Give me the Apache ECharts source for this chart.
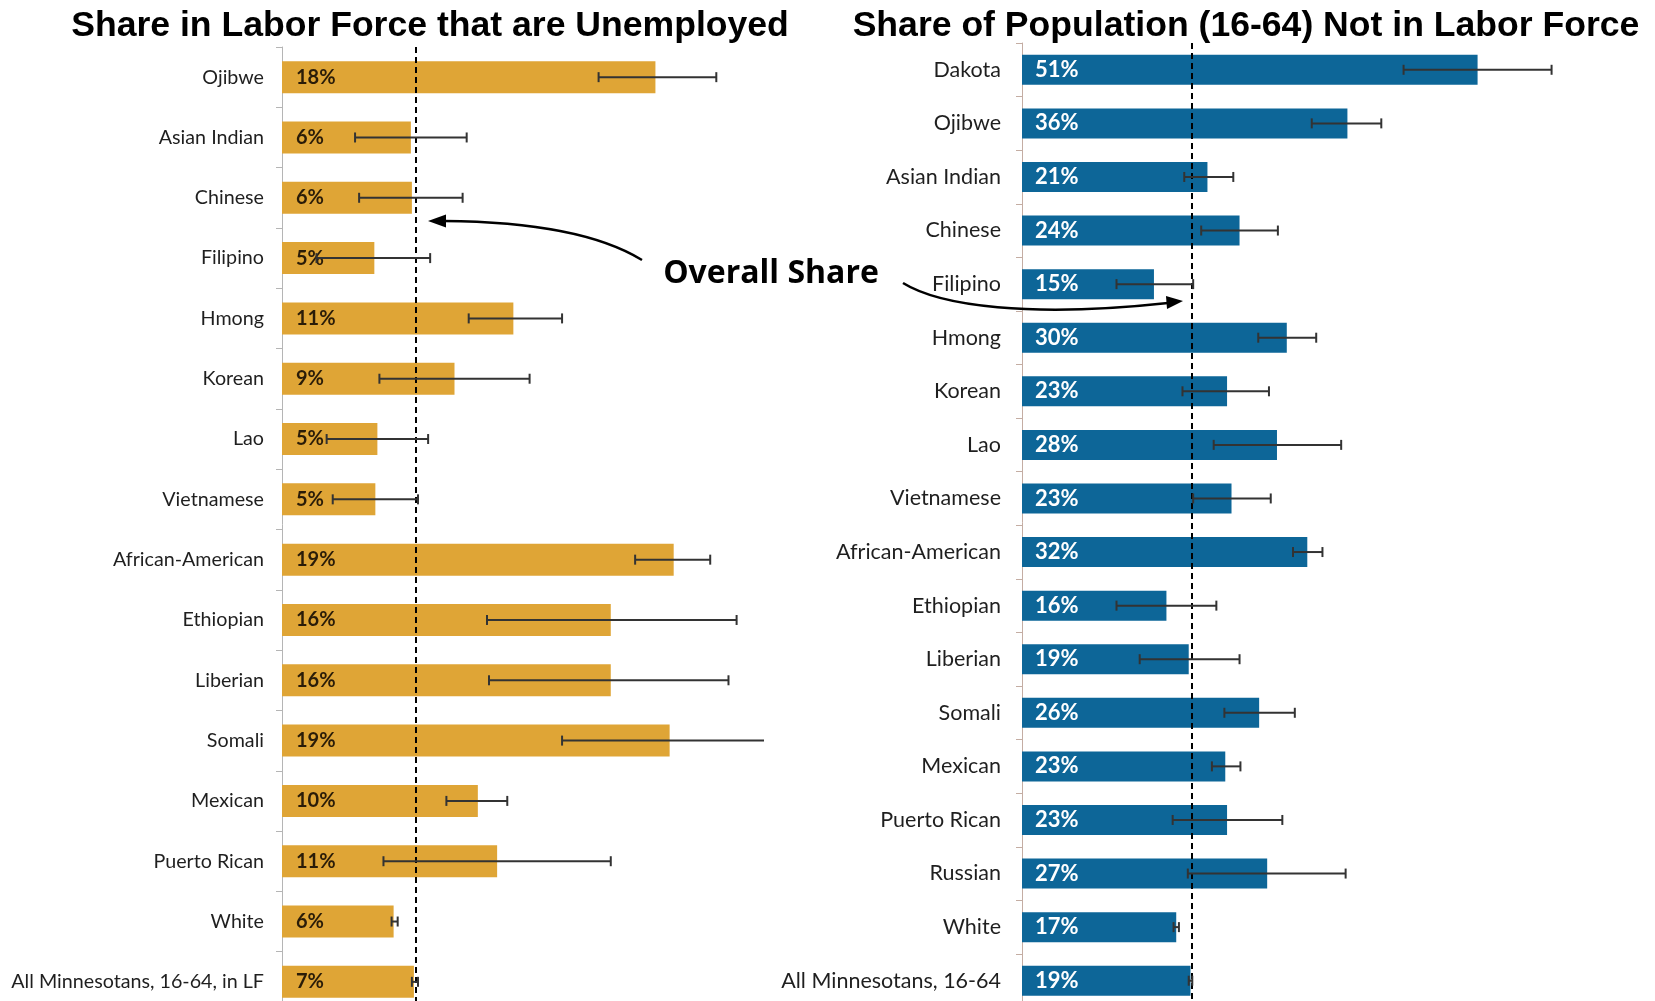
<!DOCTYPE html>
<html>
<head>
<meta charset="utf-8">
<title>Labor force shares</title>
<script src="https://cdn.jsdelivr.net/npm/echarts@6/dist/echarts.min.js"></script>
<style>
  html, body { margin: 0; padding: 0; background: #fff; }
  #main { width: 1655px; height: 1001px; }
</style>
</head>
<body>
<div id="main"></div>
<script>
// left panel: share in labor force that are unemployed
var unempGroups = ['Ojibwe', 'Asian Indian', 'Chinese', 'Filipino', 'Hmong', 'Korean', 'Lao', 'Vietnamese',
    'African-American', 'Ethiopian', 'Liberian', 'Somali', 'Mexican', 'Puerto Rican', 'White',
    'All Minnesotans, 16-64, in LF'];
var unempValues = [18.4, 6.35, 6.4, 4.55, 11.4, 8.5, 4.7, 4.6, 19.3, 16.2, 16.2, 19.1, 9.65, 10.6, 5.5, 6.5];
var unempLow = [15.6, 3.6, 3.8, 1.7, 9.2, 4.8, 2.2, 2.5, 17.4, 10.1, 10.2, 13.8, 8.1, 5.0, 5.4, 6.4];
var unempHigh = [21.4, 9.1, 8.9, 7.3, 13.8, 12.2, 7.2, 6.7, 21.1, 22.4, 22.0, 25.0, 11.1, 16.2, 5.7, 6.7];
var unempLabels = ['18%', '6%', '6%', '5%', '11%', '9%', '5%', '5%', '19%', '16%', '16%', '19%', '10%', '11%', '6%', '7%'];
var unempOverall = 6.6;

// right panel: share of population (16-64) not in labor force
var nilfGroups = ['Dakota', 'Ojibwe', 'Asian Indian', 'Chinese', 'Filipino', 'Hmong', 'Korean', 'Lao', 'Vietnamese',
    'African-American', 'Ethiopian', 'Liberian', 'Somali', 'Mexican', 'Puerto Rican', 'Russian', 'White',
    'All Minnesotans, 16-64'];
var nilfValues = [51.1, 36.5, 20.8, 24.4, 14.8, 29.7, 23.0, 28.6, 23.5, 32.0, 16.2, 18.7, 26.6, 22.8, 23.0, 27.5, 17.3, 18.9];
var nilfLow = [42.8, 32.5, 18.2, 20.1, 10.6, 26.5, 18.0, 21.5, 19.2, 30.4, 10.6, 13.2, 22.7, 21.3, 16.9, 18.6, 17.0, 18.7];
var nilfHigh = [59.4, 40.3, 23.7, 28.7, 19.2, 33.0, 27.7, 35.8, 27.9, 33.7, 21.8, 24.4, 30.6, 24.5, 29.2, 36.3, 17.6, 19.1];
var nilfLabels = ['51%', '36%', '21%', '24%', '15%', '30%', '23%', '28%', '23%', '32%', '16%', '19%', '26%', '23%', '23%', '27%', '17%', '19%'];
var nilfOverall = 19;

var labelFont = 'Lato, "Open Sans", sans-serif';

// error bar with end caps, clipped at the right edge of the grid
function renderError(params, api) {
    var lo = api.coord([api.value(0), api.value(2)]);
    var hi = api.coord([api.value(1), api.value(2)]);
    var right = params.coordSys.x + params.coordSys.width;
    var cut = hi[0] > right;
    if (cut) hi[0] = right;
    var h = 5;
    var style = { stroke: '#333', lineWidth: 2 };
    var children = [
        { type: 'line', shape: { x1: lo[0], y1: lo[1], x2: hi[0], y2: hi[1] }, style: style },
        { type: 'line', shape: { x1: lo[0], y1: lo[1] - h, x2: lo[0], y2: lo[1] + h }, style: style }
    ];
    if (!cut) {
        children.push({ type: 'line', shape: { x1: hi[0], y1: hi[1] - h, x2: hi[0], y2: hi[1] + h }, style: style });
    }
    return { type: 'group', children: children };
}

function errorData(low, high) {
    var out = [];
    for (var i = 0; i < low.length; i++) {
        out.push([low[i], high[i], i]);
    }
    return out;
}

function catAxis(idx, groups, margin, lineColor, fontSize) {
    return {
        type: 'category',
        gridIndex: idx,
        data: groups,
        inverse: true,
        axisLine: { show: true, lineStyle: { color: lineColor, width: 1 } },
        axisTick: { show: true, length: 6, lineStyle: { color: lineColor } },
        axisLabel: { margin: margin, fontSize: fontSize, color: '#1f1f1f', fontFamily: labelFont },
        splitLine: { show: false }
    };
}

function valAxis(idx, max) {
    return {
        type: 'value',
        gridIndex: idx,
        min: 0,
        max: max,
        axisLine: { show: false },
        axisTick: { show: false },
        axisLabel: { show: false },
        splitLine: { show: false }
    };
}

function overallLine(v) {
    return {
        silent: true,
        symbol: 'none',
        label: { show: false },
        lineStyle: { color: '#000', type: [6, 4], width: 2 },
        data: [{ xAxis: v }]
    };
}

var chart = echarts.init(document.getElementById('main'));

var option = {
    animation: false,
    backgroundColor: '#fff',
    grid: [
        { left: 282, top: 47, width: 482, height: 965, outerBoundsMode: 'none' },
        { left: 1022, top: 43, width: 633, height: 964.5, outerBoundsMode: 'none' }
    ],
    xAxis: [valAxis(0, 23.75), valAxis(1, 71)],
    yAxis: [catAxis(0, unempGroups, 18, '#b5b5b5', 19.7), catAxis(1, nilfGroups, 21, '#c4ada3', 21.5)],
    series: [
        {
            type: 'bar',
            xAxisIndex: 0, yAxisIndex: 0,
            data: unempValues,
            barWidth: 32,
            itemStyle: { color: '#DFA536' },
            label: {
                show: true, position: 'insideLeft', distance: 14,
                fontFamily: labelFont, fontWeight: 'bold', fontSize: 20, color: '#2a1c08',
                formatter: function (p) { return unempLabels[p.dataIndex]; }
            },
            markLine: overallLine(unempOverall)
        },
        {
            type: 'custom',
            xAxisIndex: 0, yAxisIndex: 0,
            data: errorData(unempLow, unempHigh),
            encode: { x: [0, 1], y: 2 },
            renderItem: renderError,
            z: 5
        },
        {
            type: 'bar',
            xAxisIndex: 1, yAxisIndex: 1,
            data: nilfValues,
            barWidth: 30,
            itemStyle: { color: '#0D6698' },
            label: {
                show: true, position: 'insideLeft', distance: 13,
                fontFamily: labelFont, fontWeight: 'bold', fontSize: 22, color: '#fff',
                formatter: function (p) { return nilfLabels[p.dataIndex]; }
            },
            markLine: overallLine(nilfOverall)
        },
        {
            type: 'custom',
            xAxisIndex: 1, yAxisIndex: 1,
            data: errorData(nilfLow, nilfHigh),
            encode: { x: [0, 1], y: 2 },
            renderItem: renderError,
            z: 5
        }
    ],
    graphic: [
        {
            type: 'text', x: 430, y: 26, z: 10,
            style: {
                text: 'Share in Labor Force that are Unemployed',
                font: 'bold 35.6px "Liberation Sans", Arial, sans-serif',
                fill: '#000', textAlign: 'center', textVerticalAlign: 'middle'
            }
        },
        {
            type: 'text', x: 1246, y: 26, z: 10,
            style: {
                text: 'Share of Population (16-64) Not in Labor Force',
                font: 'bold 35.6px "Liberation Sans", Arial, sans-serif',
                fill: '#000', textAlign: 'center', textVerticalAlign: 'middle'
            }
        },
        {
            type: 'text', x: 771, y: 274, z: 10,
            style: {
                text: 'Overall Share',
                font: 'bold 32px "Open Sans", sans-serif',
                fill: '#000', textAlign: 'center', textVerticalAlign: 'middle'
            }
        },
        // callout arrows to the two dashed lines
        {
            type: 'bezierCurve', z: 10,
            shape: { x1: 642, y1: 260, cpx1: 580, cpy1: 222, x2: 444, y2: 221 },
            style: { stroke: '#000', lineWidth: 2.5, fill: null }
        },
        {
            type: 'polygon', z: 10,
            shape: { points: [[428, 221], [446, 214.5], [446, 227.5]] },
            style: { fill: '#000' }
        },
        {
            type: 'bezierCurve', z: 10,
            shape: { x1: 903, y1: 283, cpx1: 940, cpy1: 306, cpx2: 1030, cpy2: 318, x2: 1168, y2: 303 },
            style: { stroke: '#000', lineWidth: 2.5, fill: null }
        },
        {
            type: 'polygon', z: 10,
            shape: { points: [[1183, 301], [1166, 296], [1167, 309]] },
            style: { fill: '#000' }
        }
    ]
};

chart.setOption(option);
window.addEventListener('resize', function () {
    chart.resize();
});
</script>
</body>
</html>
